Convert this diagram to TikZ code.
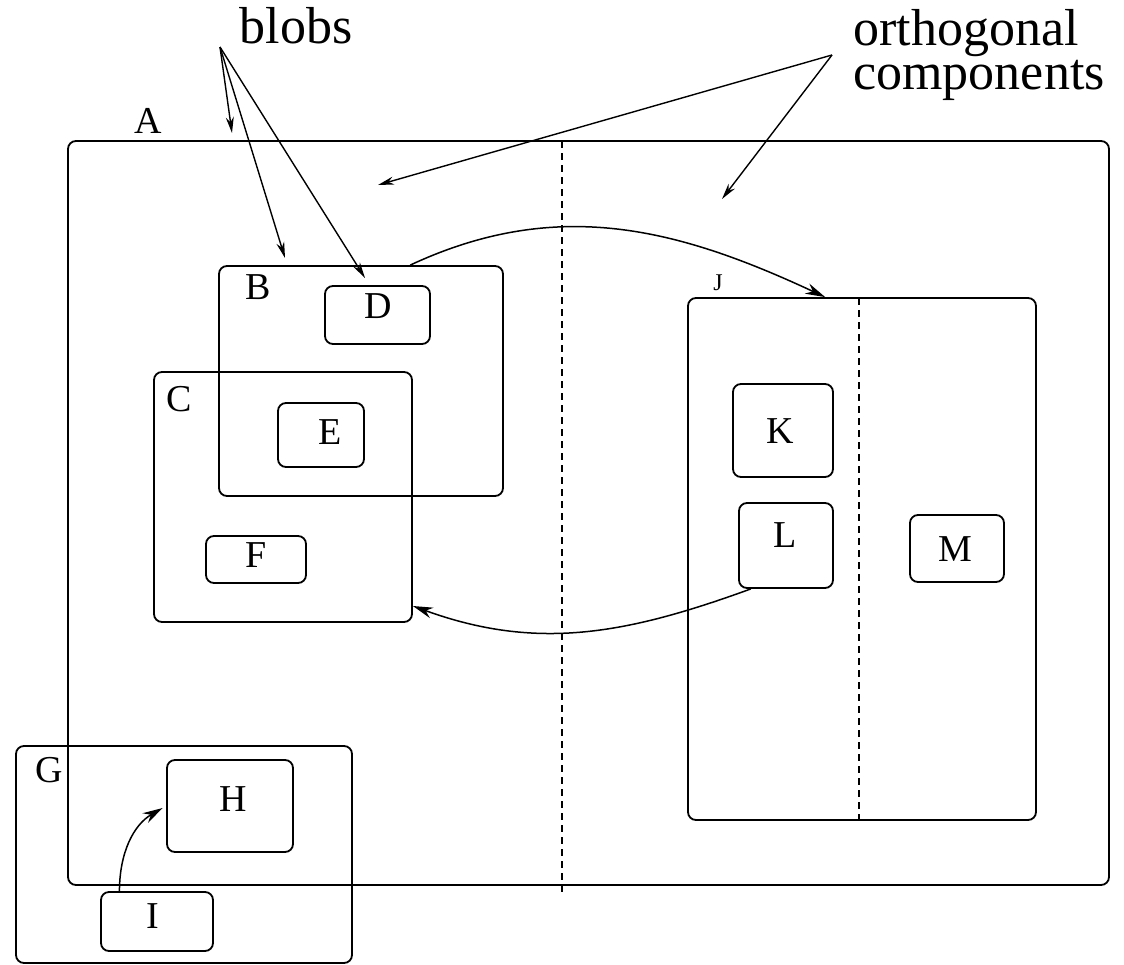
\documentclass[tikz,border=0pt]{standalone}
\usepackage{fontspec}
\setmainfont{Liberation Serif}
\usetikzlibrary{fit,arrows.meta}
\begin{document}
\begin{tikzpicture}[x=0.5pt, y=-0.5pt,
    box/.style={draw, line width=0.9pt, rounded corners=4pt, inner sep=0pt},
    lbl/.style={font=\fontsize{19}{22}\selectfont, inner sep=0pt},
    big/.style={font=\fontsize{26}{22}\selectfont, inner sep=0pt},
    arr/.style={-{Stealth[length=8pt,width=4pt]}, line width=0.7pt},
    carr/.style={-{Stealth[length=10pt,width=5.5pt]}, line width=0.75pt},
    dsh/.style={line width=0.8pt, dash pattern=on 3.5pt off 2.5pt}]
    \useasboundingbox (0,0) rectangle (1124,964);
    \foreach \n/\a/\b/\c/\d in {A/68/141/1109/885, B/219/266/503/496, C/154/372/412/622,
        D/325/286/430/344, E/278/403/364/467, F/206/536/306/583, G/16/746/352/963,
        H/167/760/293/852, I/101/892/213/951, J/688/298/1036/820, K/733/384/833/477,
        L/739/503/833/588, M/910/515/1004/582}
        \node[box, fit={(\a,\b) (\c,\d)}] (\n) {};
    \draw[dsh] (562,141) -- (562,892);
    \draw[dsh] (859,298) -- (859,820);
    \foreach \n/\x/\y in {A/148/121, B/258/287, C/179/399, D/378/306, E/330/432, F/256/555,
        G/49/770, H/233/799, I/153/916, K/780/431, L/785/535, M/955/549}
        \node[lbl] (t\n) at (\x,\y) {\n};
    \node[font=\fontsize{12}{14}\selectfont, inner sep=0pt] (tJ) at (718,283) {J};
    \node[big, anchor=base] (blobs) at (296,43) {blobs};
    \node[big, anchor=north west, align=left] (orth) at (853,9) {orthogonal\\components};
    \coordinate (b0) at (220,47); \coordinate (o0) at (832,55);
    \foreach \n/\x/\y in {e1/232/133, e2/285/258, e3/365/278, e4/378/185, e5/722/199}
        \coordinate (\n) at (\x,\y);
    \foreach \n in {e1,e2,e3} \draw[arr] (b0) -- (\n);
    \foreach \n in {e4,e5} \draw[arr] (o0) -- (\n);
    \draw[carr] (B.67) to[out=25, in=155] (J.98);
    \draw[carr] (L.231) to[out=200, in=-20] (C.320);
    \draw[carr, shorten >=2pt] (I.141) to[out=90, in=210] (H.west);
\end{tikzpicture}
\end{document}
